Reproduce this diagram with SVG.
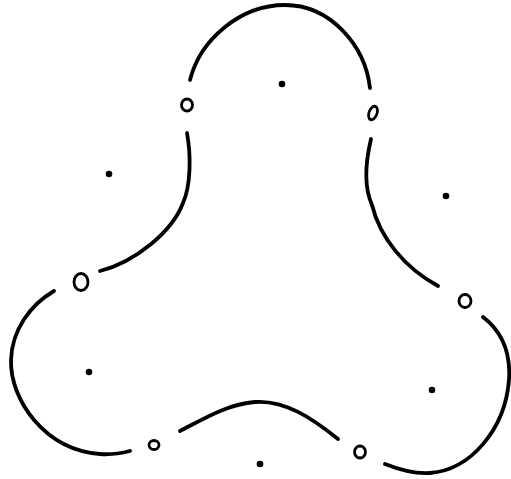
<svg xmlns="http://www.w3.org/2000/svg" width="511" height="479" viewBox="0 0 511 479">
<style>
.arc{fill:none;stroke:#000;stroke-width:3.8;stroke-linecap:round}
.ring{fill:none;stroke:#000;stroke-width:2.8}
.dot{fill:#000}
</style>
<rect width="511" height="479" fill="#fff"/>
<g id="connectors">
<path class="arc" d="M190,80 C200,40 240,5 285,5 C330,5 365,45 370,88"/>
<path class="arc" d="M187,133 C191,155 191,185 183,203 C172,232 135,262 100,271"/>
<path class="arc" d="M54,291 C30,305 12,330 11,360 C10,400 45,450 100,454 C112,455 122,453 130,451"/>
<path class="arc" d="M180,431 C205,418 228,404 255,402 C285,400 312,418 338,439"/>
<path class="arc" d="M385,464 C400,470 415,474 430,473 C470,470 505,430 509,380 C511,350 500,330 483,317"/>
<path class="arc" d="M371,139 C366,160 363,185 372,205 C380,238 405,268 438,286"/>
</g>
<g id="n1"><ellipse class="ring" cx="187" cy="105" rx="5.5" ry="6"/></g>
<g id="n2"><ellipse class="ring" cx="373" cy="113" rx="4" ry="7" transform="rotate(20 373 113)"/></g>
<g id="n3"><ellipse class="ring" cx="81" cy="282" rx="7" ry="8.5"/></g>
<g id="n4"><ellipse class="ring" cx="154" cy="445" rx="5" ry="4.5"/></g>
<g id="n5"><ellipse class="ring" cx="360" cy="452" rx="5.5" ry="6"/></g>
<g id="n6"><ellipse class="ring" cx="465" cy="301" rx="6" ry="6.5"/></g>
<g id="dots">
<circle class="dot" cx="282" cy="84" r="3.3"/>
<circle class="dot" cx="109" cy="174" r="3.3"/>
<circle class="dot" cx="446" cy="196" r="3.3"/>
<circle class="dot" cx="89" cy="372" r="3.3"/>
<circle class="dot" cx="432" cy="390" r="3.3"/>
<circle class="dot" cx="260" cy="464" r="3.3"/>
</g>
</svg>
